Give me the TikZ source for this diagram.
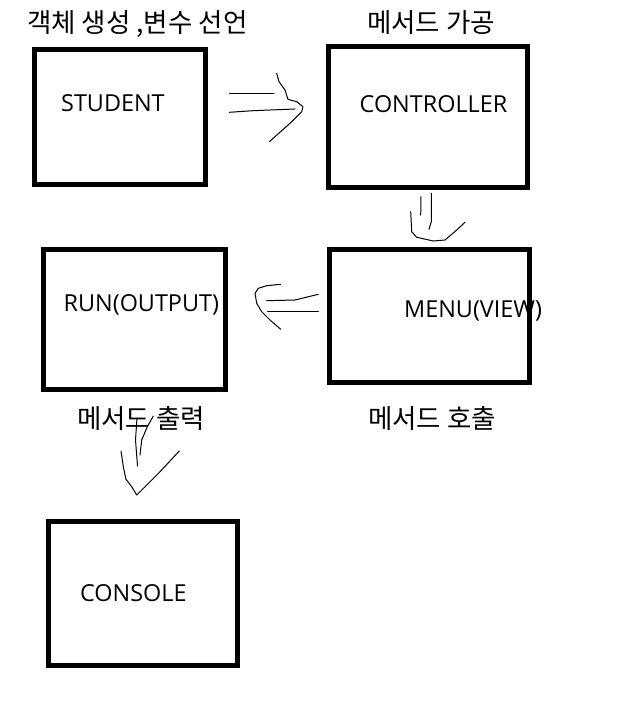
\documentclass[tikz,border=0pt]{standalone}
\usepackage{fontspec}
\setmainfont{Open Sans}
\newfontfamily\kr{Noto Sans CJK KR}
\usepackage{tikz}

\begin{document}
\begin{tikzpicture}[
    x=1pt, y=-1pt,
    box/.style={draw, line width=5pt, inner sep=0pt, outer sep=0pt},
    boxtext/.style={inner sep=0pt, anchor=base west, font=\fontsize{23.4}{28}\selectfont},
    krtext/.style={inner sep=0pt, anchor=west, font=\kr\fontsize{26.5}{30}\selectfont},
    pen/.style={line width=1pt, line join=round, line cap=round}
]
\useasboundingbox (0,0) rectangle (635,701);
\node[box, minimum width=171pt, minimum height=135pt] (student) at (120,117) {};
\node[box, minimum width=199pt, minimum height=141pt] (controller) at (428,117) {};
\node[box, minimum width=200pt, minimum height=133pt] (menu) at (429.5,316) {};
\node[box, minimum width=182pt, minimum height=140pt] (run) at (134,319) {};
\node[box, minimum width=189pt, minimum height=144pt] (console) at (142.5,593) {};
\node[boxtext] (studenttxt) at (61,111) {STUDENT};
\node[boxtext] (controllertxt) at (359.5,112.5) {CONTROLLER};
\node[boxtext] (menutxt) at (404,317) {MENU(VIEW)};
\node[boxtext] (runtxt) at (63.5,311.5) {RUN(OUTPUT)};
\node[boxtext] (consoletxt) at (80,601) {CONSOLE};
\node[krtext] (create) at (27,24) {객체 생성 ,변수 선언};
\node[krtext] (process) at (367,23) {메서드 가공};
\node[krtext] (call) at (368,419) {메서드 호출};
\node[krtext] (print) at (77,419) {메서드 출력};
\draw[pen] (229.3,93.3) -- (274,93.3);
\draw[pen] (229.3,112.3) -- (253,110.7) -- (295,109);
\draw[pen] (276.7,73.3) -- (279,81.7) -- (285,90) -- (288,99.3) -- (296.7,101.7)
    -- (303,106.7) -- (301.7,111.7) -- (290,123.3) -- (269.3,141.7);
\draw[pen] (421,196.7) -- (420.7,215);
\draw[pen] (431.3,193.3) -- (431.3,221.7) -- (429,229.3);
\draw[pen] (410.7,211.7) -- (411.7,231.7) -- (416.7,237.3) -- (433.3,241)
    -- (445,240) -- (456.7,230) -- (465,222.3);
\draw[pen] (266.7,300.7) -- (295,300) -- (318.3,294.3);
\draw[pen] (267.7,311) -- (318.3,311);
\draw[pen] (280.7,284.3) -- (266.7,285.7) -- (258.3,288.3) -- (255,293.3) -- (256.7,303.3)
    -- (261.7,311.7) -- (270,320) -- (280.7,329.3);
\draw[pen] (153.3,416) -- (147.3,426.7) -- (141.7,440) -- (140,455);
\draw[pen] (137,418) -- (135.5,440) -- (137.5,466);
\draw[pen] (121,451) -- (123.3,466.7) -- (126,479.3) -- (131.7,486.7) -- (136.7,495)
    -- (141.7,490) -- (160,471.7) -- (179.3,451);
\end{tikzpicture}
\end{document}
